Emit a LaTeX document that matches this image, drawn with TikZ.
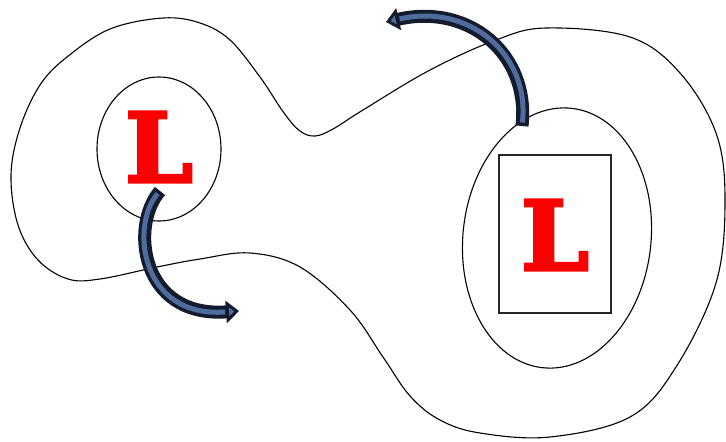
\documentclass[tikz,border=0pt]{standalone}
\usepackage{fontspec}
\newfontfamily\slabfont[BoldFeatures={FakeBold=3.5}]{DejaVu Serif}
\usetikzlibrary{shapes.geometric,arrows.meta}
\definecolor{navy}{RGB}{20,27,45}
\definecolor{fillblue}{RGB}{78,108,158}
\definecolor{lred}{RGB}{250,0,0}
\tikzset{
  contour/.style={draw=black, line width=1.1pt},
  bigL/.style={text=lred, font=\slabfont\bfseries\fontsize{96}{96}\selectfont, inner sep=0pt},
  arrouter/.style={line width=13pt, draw=navy, line cap=butt,
    -{Triangle[length=13pt,width=22pt,fill=fillblue,line width=3pt]}},
  arrinner/.style={line width=5pt, draw=fillblue, line cap=butt, shorten >=14pt, shorten <=3.5pt},
}
\begin{document}
\begin{tikzpicture}[x=1pt,y=-1pt]
\useasboundingbox (0,0) rectangle (726,442);
% outer contour
\draw[contour] plot[smooth cycle, tension=0.6] coordinates {
  (11,175) (20,128) (40,85) (67,57) (110,29) (163,18) (200,23) (230,40) (260,77)
  (284,113) (300,131) (315,136) (333,129) (363,110) (430,70) (496,40) (546,28)
  (630,37) (680,73) (716,133) (725,200) (716,283) (676,367) (630,417)
  (550,437) (480,433) (440,420) (410,396) (383,357) (350,310) (300,267)
  (250,253) (200,259) (157,267) (100,279) (68,279) (38,260) (18,225)};
% left low
\node[contour, ellipse, minimum width=124, minimum height=144, inner sep=0pt] (lcirc) at (159,149) {};
\node[bigL] (lL) at (159,147) {L};
% right low
\node[contour, ellipse, minimum width=188, minimum height=261, inner sep=0pt, rotate=-6.5] (rell) at (557,238) {};
\node[draw=black!85, line width=1.3pt, minimum width=112, minimum height=158, inner sep=0pt] (box) at (555,234) {};
\node[bigL] (rL) at (555,235) {L};
% arrows
\coordinate (a1s) at (522,126);
\coordinate (a1e) at (386,22);
\coordinate (a2s) at (160,191);
\coordinate (a2e) at (239,311);
\draw[arrouter] (a1s) .. controls (530,55) and (470,3) .. (a1e);
\draw[arrinner] (a1s) .. controls (530,55) and (470,3) .. (a1e);
\draw[arrouter] (a2s) .. controls (130,225) and (140,318) .. (a2e);
\draw[arrinner] (a2s) .. controls (130,225) and (140,318) .. (a2e);
\end{tikzpicture}
\end{document}
